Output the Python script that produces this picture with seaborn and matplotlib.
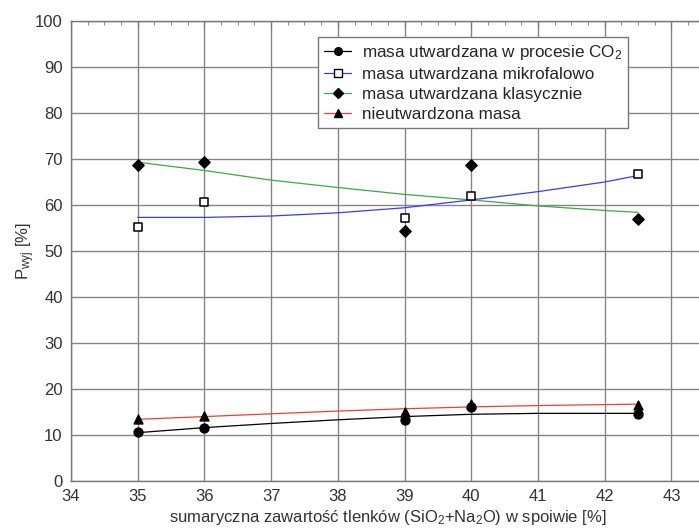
import numpy as np
import pandas as pd
import seaborn as sns
import matplotlib.pyplot as plt
from matplotlib.ticker import MultipleLocator

# measured points
x_pts = [35, 36, 39, 40, 42.5]
co2 = [10.7, 11.6, 13.3, 16.0, 14.5]
mikro = [55.3, 60.6, 57.2, 62.0, 66.7]
klas = [68.8, 69.3, 54.4, 68.8, 57.0]
nieutw = [13.5, 14.1, 14.9, 16.7, 16.5]

# trend lines
x_fit = [35, 36, 37, 38, 39, 40, 41, 42, 42.5]
co2_fit = [10.5, 11.6, 12.5, 13.3, 14.0, 14.5, 14.7, 14.7, 14.7]
mikro_fit = [57.3, 57.3, 57.6, 58.3, 59.4, 61.1, 62.9, 65.0, 66.4]
klas_fit = [69.3, 67.5, 65.4, 63.8, 62.3, 61.1, 59.8, 58.8, 58.4]
nieutw_fit = [13.4, 14.0, 14.6, 15.2, 15.7, 16.1, 16.4, 16.6, 16.7]

labels = ["masa utwardzana w procesie CO$_2$",
          "masa utwardzana mikrofalowo",
          "masa utwardzana klasycznie",
          "nieutwardzona masa"]

sns.set_style("white")
plt.rcParams['font.family'] = ['Liberation Sans', 'DejaVu Sans']
plt.rcParams['mathtext.fontset'] = 'custom'
plt.rcParams['mathtext.rm'] = 'Liberation Sans'
plt.rcParams['mathtext.it'] = 'Liberation Sans'

fig = plt.figure(figsize=(6.99, 5.30), dpi=100)
ax = fig.add_axes([0.1016, 0.0925, 0.9066, 0.8679])

series = [
    (co2, co2_fit, "o", "black", "black"),
    (mikro, mikro_fit, "s", "white", "#3a3aff"),
    (klas, klas_fit, "D", "black", "#3fa84a"),
    (nieutw, nieutw_fit, "^", "black", "#e8403c"),
]
handles = []
for (vals, fit, mk, fc, lc), lab in zip(series, labels):
    df_fit = pd.DataFrame({"x": x_fit, "y": fit})
    sns.lineplot(data=df_fit, x="x", y="y", color=lc, linewidth=0.9, ax=ax, zorder=3)
    df = pd.DataFrame({"x": x_pts, "y": vals})
    ms = 40 if mk != "D" else 32
    sns.scatterplot(data=df, x="x", y="y", marker=mk, s=ms, color=fc,
                    edgecolor="black", linewidth=1.1, ax=ax, zorder=4)
    h, = ax.plot([], [], color=lc, linewidth=0.9, marker=mk, markersize=5.5 if mk != "D" else 5,
                 markerfacecolor=fc, markeredgecolor="black")
    handles.append(h)

ax.set_xlim(34, 43.5)
ax.set_ylim(0, 100)
ax.xaxis.set_major_locator(MultipleLocator(1))
ax.xaxis.set_minor_locator(MultipleLocator(0.25))
ax.yaxis.set_major_locator(MultipleLocator(10))
ax.yaxis.set_minor_locator(MultipleLocator(2))
ax.grid(True, which="major", color="#858585", linewidth=1.0)
ax.set_axisbelow(True)
ax.tick_params(which="both", direction="in", top=True, right=False, colors="#777777",
               labelcolor="#333333", labelsize=12)
ax.tick_params(which="major", length=5, pad=6)
ax.tick_params(which="minor", length=3)
for s in ax.spines.values():
    s.set_color("#777777")
    s.set_linewidth(1.0)

ax.set_xlabel("sumaryczna zawartość tlenków (SiO$_2$+Na$_2$O) w spoiwie [%]",
              fontsize=12, color="#333333", labelpad=2.5)
ax.set_ylabel("P$_{wyj}$ [%]", fontsize=12, color="#333333", labelpad=-1.5)

leg = ax.legend(handles, labels, loc="upper left", bbox_to_anchor=(0.39, 0.965),
                borderaxespad=0, fontsize=12.3, frameon=True, fancybox=False, framealpha=1,
                edgecolor="#777777", handlelength=1.6, handletextpad=0.6,
                labelspacing=0.3, borderpad=0.35)
leg.get_frame().set_linewidth(1.0)
leg.set_zorder(5)

fig.savefig("out.png", dpi=100)
